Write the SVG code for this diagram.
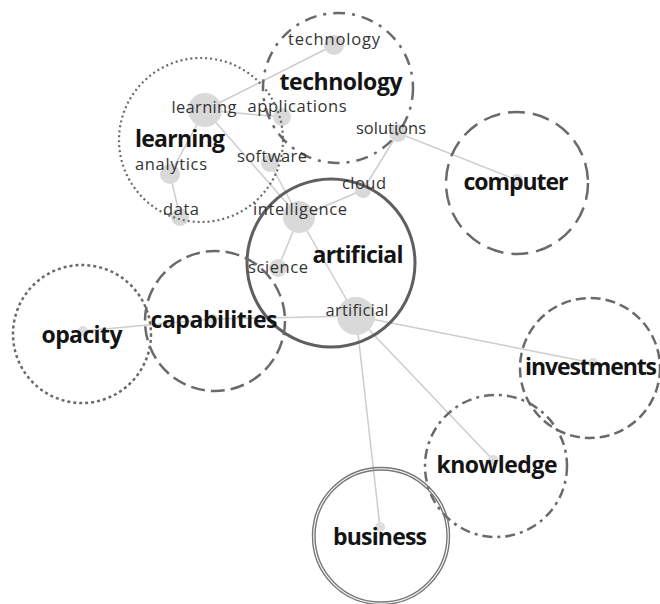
<svg xmlns="http://www.w3.org/2000/svg" width="660" height="604" viewBox="0 0 660 604">
  <style>
    .edge { stroke: #cdcdcd; stroke-width: 1.5; fill: none; }
    .dot { fill: #d9d9d9; }
    .hub { fill: #dedede; }
    .ring { fill: none; stroke: #6a6a6a; stroke-width: 2.5; }
    .solid { stroke-width: 3; stroke: #5f5f5f; }
    .dashdot { stroke-dasharray: 12 7 3 7; }
    .dotted { stroke-dasharray: 2 3; stroke-width: 2.2; }
    .dotted2 { stroke-dasharray: 3 3; }
    .dash { stroke-dasharray: 14 6; }
    .longdash { stroke-dasharray: 17 8; }
    .dash2 { stroke-dasharray: 10 5; }
    .dashdot2 { stroke-dasharray: 10 5 3 5; }
    .double { stroke: #777; stroke-width: 1.4; }
    .term { font-family: "Open Sans", "Noto Sans", sans-serif; font-size: 16.5px; fill: #333; text-anchor: middle; }
    .topic { font-family: "Open Sans", "Noto Sans", sans-serif; font-size: 23px; font-weight: 700; fill: #141414; text-anchor: middle; }
  </style>

  <rect width="660" height="604" fill="#ffffff"/>

  <!-- links between terms -->
  <g id="connectors">
    <line class="edge" x1="334" y1="45" x2="205" y2="110"/>
    <line class="edge" x1="205" y1="110" x2="282" y2="117"/>
    <line class="edge" x1="205" y1="110" x2="170" y2="174"/>
    <line class="edge" x1="170" y1="174" x2="180" y2="217"/>
    <line class="edge" x1="205" y1="110" x2="299" y2="217"/>
    <line class="edge" x1="270" y1="163" x2="299" y2="217"/>
    <line class="edge" x1="398" y1="133" x2="363" y2="190"/>
    <line class="edge" x1="363" y1="190" x2="299" y2="217"/>
    <line class="edge" x1="398" y1="133" x2="517" y2="180"/>
    <line class="edge" x1="299" y1="217" x2="278" y2="268"/>
    <line class="edge" x1="299" y1="217" x2="356" y2="316"/>
    <line class="edge" x1="356" y1="316" x2="213" y2="319"/>
    <line class="edge" x1="213" y1="319" x2="83" y2="331"/>
    <line class="edge" x1="356" y1="316" x2="593" y2="363"/>
    <line class="edge" x1="356" y1="316" x2="493" y2="460"/>
    <line class="edge" x1="356" y1="316" x2="380" y2="527"/>
  </g>

  <!-- term dots -->
  <g id="term-dots">
    <circle class="dot" cx="334" cy="45" r="10"/>
    <circle class="dot" cx="205" cy="110" r="17"/>
    <circle class="dot" cx="282" cy="117" r="9"/>
    <circle class="dot" cx="398" cy="133" r="9"/>
    <circle class="dot" cx="170" cy="174" r="10"/>
    <circle class="dot" cx="270" cy="163" r="9"/>
    <circle class="dot" cx="363" cy="190" r="8"/>
    <circle class="dot" cx="180" cy="217" r="9"/>
    <circle class="dot" cx="299" cy="217" r="16"/>
    <circle class="dot" cx="278" cy="268" r="9"/>
    <circle class="dot" cx="356" cy="316" r="19"/>
    <circle class="hub" cx="213" cy="319" r="5"/>
    <circle class="hub" cx="83" cy="331" r="5"/>
    <circle class="hub" cx="517" cy="180" r="6"/>
    <circle class="hub" cx="593" cy="363" r="5"/>
    <circle class="hub" cx="493" cy="460" r="5"/>
    <circle class="hub" cx="380" cy="527" r="5"/>
  </g>

  <g id="node-technology">
    <circle class="ring dashdot" cx="338" cy="88" r="75"/>
    <text class="term" x="334" y="45" textLength="92">technology</text>
    <text class="term" x="297" y="112" textLength="99">applications</text>
    <text class="term" x="391" y="134" textLength="70">solutions</text>
    <text class="topic" x="341" y="90" textLength="123">technology</text>
  </g>

  <g id="node-learning">
    <circle class="ring dotted" cx="201" cy="140" r="82"/>
    <text class="term" x="204" y="113" textLength="65">learning</text>
    <text class="term" x="171" y="170" textLength="72">analytics</text>
    <text class="term" x="272" y="162" textLength="70">software</text>
    <text class="term" x="181" y="215" textLength="36">data</text>
    <text class="topic" x="180" y="147" textLength="90">learning</text>
  </g>

  <g id="node-artificial">
    <circle class="ring solid" cx="331" cy="263" r="84"/>
    <text class="term" x="364" y="189" textLength="44">cloud</text>
    <text class="term" x="300" y="215" textLength="94">intelligence</text>
    <text class="term" x="278" y="273" textLength="60">science</text>
    <text class="term" x="357" y="316" textLength="63">artificial</text>
    <text class="topic" x="358" y="263" textLength="91">artificial</text>
  </g>

  <g id="node-capabilities">
    <circle class="ring dash" cx="215" cy="321" r="70"/>
    <text class="topic" x="214" y="328" textLength="127">capabilities</text>
  </g>

  <g id="node-opacity">
    <circle class="ring dotted2" cx="82" cy="334" r="69"/>
    <text class="topic" x="82" y="343" textLength="81">opacity</text>
  </g>

  <g id="node-computer">
    <circle class="ring longdash" cx="517" cy="183" r="71"/>
    <text class="topic" x="516" y="190" textLength="105">computer</text>
  </g>

  <g id="node-investments">
    <circle class="ring dash2" cx="590" cy="368" r="70"/>
    <text class="topic" x="591" y="375" textLength="132">investments</text>
  </g>

  <g id="node-knowledge">
    <circle class="ring dashdot2" cx="496" cy="466" r="71"/>
    <text class="topic" x="497" y="473" textLength="121">knowledge</text>
  </g>

  <g id="node-business">
    <circle class="ring double" cx="381" cy="536" r="68.5"/>
    <circle class="ring double" cx="381" cy="536" r="66"/>
    <text class="topic" x="380" y="545" textLength="94">business</text>
  </g>
</svg>
